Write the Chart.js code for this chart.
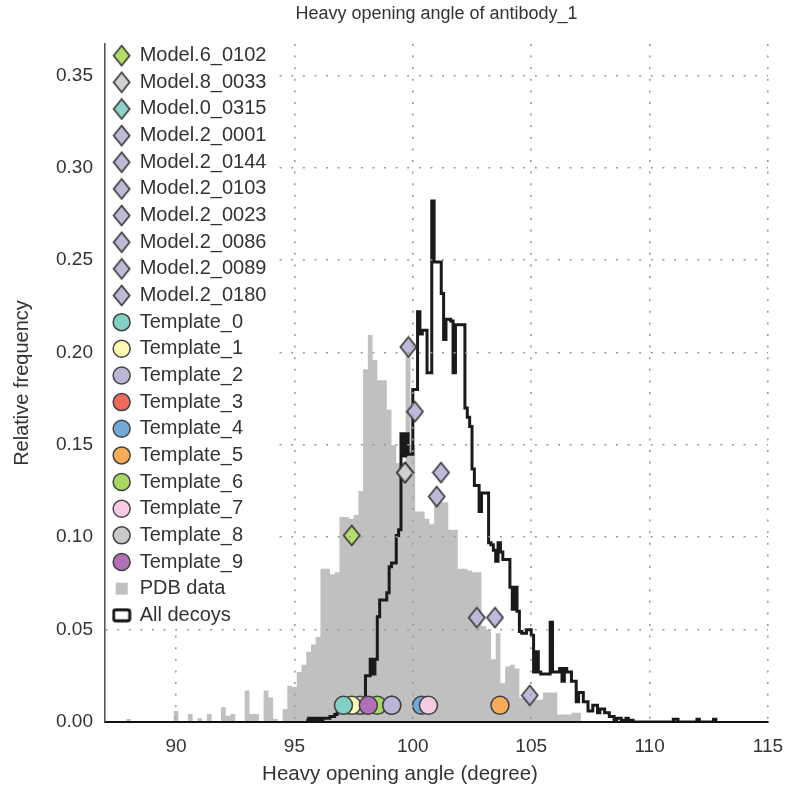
<!DOCTYPE html>
<html>
<head>
<meta charset="utf-8">
<script src="https://cdn.jsdelivr.net/npm/chart.js@4.4.1/dist/chart.umd.min.js"></script>
<style>
  html, body { margin: 0; padding: 0; background: #fff; }
  #wrap { width: 788px; height: 793px; }
</style>
</head>
<body>
<div id="wrap"><canvas id="chart" width="788" height="793"></canvas></div>
<script>
// ---- data ----
const modelNames = ['Model.6_0102', 'Model.8_0033', 'Model.0_0315', 'Model.2_0001', 'Model.2_0144',
  'Model.2_0103', 'Model.2_0023', 'Model.2_0086', 'Model.2_0089', 'Model.2_0180'];
const modelAngle = [97.42, 99.67, 99.67, 99.81, 100.09, 101.19, 101.01, 102.70, 103.47, 104.94];
const modelFreq = [0.101, 0.135, 0.135, 0.203, 0.168, 0.135, 0.122, 0.0565, 0.0565, 0.0144];

const templateNames = ['Template_0', 'Template_1', 'Template_2', 'Template_3', 'Template_4',
  'Template_5', 'Template_6', 'Template_7', 'Template_8', 'Template_9'];
const templateAngle = [97.07, 97.42, 99.11, 99.11, 100.37, 103.68, 98.50, 100.66, 97.77, 98.12];
const templateFreq = [0.009, 0.009, 0.009, 0.009, 0.009, 0.009, 0.009, 0.009, 0.009, 0.009];

// PDB data histogram, 0.2 degree bins starting at 87.1
const pdbStart = 87.1;
const pdbBin = 0.2;
const pdbFreq = [
  0, 0, 0, 0, 0.0016, 0, 0, 0, 0, 0,
  0, 0, 0, 0, 0.006, 0, 0, 0.0043, 0, 0.002,
  0, 0.0043, 0, 0, 0.008, 0.0034, 0.0043, 0, 0, 0.017,
  0.0043, 0.0043, 0, 0.017, 0.0133, 0.0016, 0, 0.007, 0.0196, 0.019,
  0.027, 0.031, 0.038, 0.042, 0.046, 0.083, 0.083, 0.080, 0.081, 0.111,
  0.111, 0.110, 0.112, 0.125, 0.191, 0.2095, 0.196, 0.185, 0.185, 0.169,
  0.150, 0.140, 0.140, 0.200, 0.150, 0.114, 0.114, 0.110, 0.107, 0.119,
  0.119, 0.119, 0.104, 0.104, 0.083, 0.083, 0.082, 0.081, 0.081, 0.052,
  0.050, 0.034, 0.048, 0.021, 0.030, 0.031, 0.029, 0.013, 0.014, 0.012,
  0.012, 0.012, 0.016, 0.016, 0.016, 0.004, 0.004, 0.004, 0.005, 0.005,
  0
];

// All decoys histogram, 0.1 degree bins starting at 95.5
const decoyStart = 95.5;
const decoyBin = 0.1;
const decoyFreq = [
  0.001, 0.002, 0.001, 0.002, 0.001, 0.002, 0.001, 0.002, 0.002, 0.002,
  0.003, 0.003, 0.004, 0.005, 0.005, 0.005, 0.005, 0.006, 0.005, 0.005,
  0.006, 0.005, 0.005, 0.006, 0.005, 0.025, 0.025, 0.034, 0.026, 0.034,
  0.057, 0.066, 0.066, 0.066, 0.070, 0.084, 0.086, 0.086, 0.101, 0.104,
  0.156, 0.144, 0.156, 0.145, 0.145, 0.180, 0.180, 0.222, 0.210, 0.212,
  0.212, 0.189, 0.189, 0.282, 0.249, 0.249, 0.249, 0.232, 0.207, 0.218,
  0.218, 0.217, 0.189, 0.215, 0.215, 0.215, 0.215, 0.170, 0.165, 0.160,
  0.137, 0.128, 0.128, 0.114, 0.124, 0.124, 0.124, 0.097, 0.096, 0.093,
  0.087, 0.097, 0.092, 0.088, 0.088, 0.088, 0.073, 0.061, 0.073, 0.060,
  0.049, 0.048, 0.048, 0.050, 0.050, 0.047, 0.027, 0.038, 0.027, 0.026,
  0.026, 0.026, 0.026, 0.054, 0.027, 0.027, 0.027, 0.029, 0.022, 0.029,
  0.027, 0.027, 0.022, 0.022, 0.011, 0.016, 0.016, 0.011, 0.011, 0.006,
  0.006, 0.009, 0.009, 0.005, 0.007, 0.007, 0.005, 0.005, 0.003, 0.003,
  0.001, 0.002, 0.002, 0.001, 0.001, 0.002, 0.001, 0.001, 0, 0,
  0, 0, 0, 0, 0, 0, 0, 0, 0, 0,
  0, 0, 0, 0, 0, 0.0015, 0.0015, 0, 0, 0,
  0, 0, 0, 0, 0, 0.0015, 0, 0, 0, 0,
  0, 0, 0.0015, 0
];

const xMin = 87, xMax = 115;
const yMax = 0.367;

// ---- styles ----
const FONT = "'Liberation Sans', Arial, Helvetica, sans-serif";
const TEXT = '#333';
const modelColors = ['#b3de69', '#d2cfd2', '#8dd3c7', '#bebada', '#bebada', '#bebada', '#bebada', '#bebada', '#bebada', '#bebada'];
const templateColors = ['#80d0c4', '#fbfab0', '#bab6d8', '#f0695c', '#74a9d6', '#f9ab55', '#a8d860', '#f9cbe2', '#c9c9c9', '#b06fb6'];
const LEG_FONT = 20;
const LEG_PAD = 6.65;
const PAD_LEFT = 32;

function diamond(fill) {
  const c = document.createElement('canvas');
  c.width = 19; c.height = 23;
  const g = c.getContext('2d');
  g.beginPath();
  g.moveTo(9.5, 1.5); g.lineTo(17.5, 11.5); g.lineTo(9.5, 21.5); g.lineTo(1.5, 11.5);
  g.closePath();
  g.fillStyle = fill; g.fill();
  g.lineWidth = 1.7; g.strokeStyle = '#3a3a3a'; g.stroke();
  return c;
}

function swatch(w, h, draw) {
  const c = document.createElement('canvas');
  c.width = w; c.height = h;
  draw(c.getContext('2d'));
  return c;
}

const pdbSwatch = swatch(14, 14, g => { g.fillStyle = '#c0c0c0'; g.fillRect(1, 1, 12, 12); });
const decoySwatch = swatch(20, 15, g => {
  g.fillStyle = '#fff'; g.strokeStyle = '#111'; g.lineWidth = 2.8;
  g.beginPath(); g.roundRect(2, 2, 16, 11, 2); g.fill(); g.stroke();
});

const datasets = [];
modelNames.forEach((name, i) => {
  datasets.push({
    label: name,
    data: [{ x: modelAngle[i], y: modelFreq[i] }],
    pointStyle: diamond(modelColors[i]),
    pointRadius: 9,
    backgroundColor: modelColors[i],
    borderColor: '#3a3a3a'
  });
});
templateNames.forEach((name, i) => {
  datasets.push({
    label: name,
    data: [{ x: templateAngle[i], y: templateFreq[i] }],
    pointStyle: 'circle',
    pointRadius: 9,
    borderWidth: 1.5,
    backgroundColor: templateColors[i],
    borderColor: '#404040',
    order: (i === 7 || i === 9) ? -1 : 0
  });
});
datasets.push({
  type: 'line',
  label: 'PDB data',
  data: pdbFreq.map((v, i) => ({ x: pdbStart + i * pdbBin, y: v })),
  stepped: 'before',
  fill: 'origin',
  backgroundColor: '#c0c0c0',
  borderWidth: 0,
  pointRadius: 0,
  pointStyle: pdbSwatch,
  order: 2
});
datasets.push({
  type: 'line',
  label: 'All decoys',
  data: decoyFreq.map((v, i) => ({ x: decoyStart + i * decoyBin, y: v })),
  stepped: 'before',
  fill: false,
  borderColor: '#1a1a1a',
  borderWidth: 3,
  backgroundColor: '#fff',
  pointRadius: 0,
  pointStyle: decoySwatch,
  order: 1
});

// legend sits inside the plot with a white backing, like the original
const legendBox = {
  id: 'legendBox',
  afterLayout(chart) {
    const lg = chart.legend, area = chart.chartArea;
    lg.left = area.left + 2;
    lg.right = area.right;
    lg.top = area.top - 5;
    lg.bottom = area.bottom;
  },
  afterDraw(chart) {
    const lg = chart.legend, area = chart.chartArea, ctx = chart.ctx;
    const rows = lg.legendItems.length;
    const h = LEG_PAD + rows * (LEG_FONT + LEG_PAD) - LEG_PAD / 2;
    ctx.save();
    ctx.fillStyle = '#fff';
    ctx.fillRect(area.left + 1, lg.top, lg.width, h);
    ctx.restore();
    lg.draw();
  }
};

new Chart(document.getElementById('chart'), {
  type: 'scatter',
  data: { datasets },
  plugins: [legendBox],
  options: {
    responsive: false,
    animation: false,
    devicePixelRatio: 1,
    events: [],
    layout: { padding: { left: PAD_LEFT, right: 20, top: 0, bottom: 0 } },
    plugins: {
      title: {
        display: true,
        text: 'Heavy opening angle of antibody_1',
        fullSize: false,
        color: TEXT,
        font: { family: FONT, size: 18, weight: 'normal' },
        padding: { top: 3, bottom: 19.4 }
      },
      subtitle: {
        display: true,
        position: 'bottom',
        fullSize: true,
        text: 'Heavy opening angle (degree)',
        color: TEXT,
        font: { family: FONT, size: 20.5 },
        padding: { top: 0, bottom: 6 }
      },
      legend: {
        position: 'chartArea',
        align: 'start',
        labels: {
          usePointStyle: true,
          boxWidth: 16,
          boxHeight: 12,
          padding: LEG_PAD,
          color: TEXT,
          font: { family: FONT, size: LEG_FONT },
          sort: (a, b) => a.datasetIndex - b.datasetIndex
        }
      },
      tooltip: { enabled: false }
    },
    scales: {
      x: {
        type: 'linear',
        min: xMin,
        max: xMax,
        afterFit: s => { s.height = 794 - 723 - 30.6; s.paddingLeft = 0; s.paddingRight = 0; },
        ticks: {
          stepSize: 5,
          includeBounds: false,
          padding: 13,
          color: TEXT,
          font: { family: FONT, size: 19 }
        },
        grid: { color: '#9a9a9a', lineWidth: 1.6, drawTicks: false, z: 1 },
        border: { color: '#111', width: 2, dash: [2, 9.6], z: 2 }
      },
      y: {
        min: 0,
        max: yMax,
        afterFit: s => { s.width = 105 - PAD_LEFT; },
        ticks: {
          stepSize: 0.05,
          includeBounds: false,
          padding: 12,
          color: TEXT,
          font: { family: FONT, size: 19 },
          callback: v => v.toFixed(2)
        },
        grid: { color: '#9a9a9a', lineWidth: 1.6, drawTicks: false, z: 1 },
        border: { color: '#555', width: 1.6, dash: [2, 9.6], z: 2 },
        title: {
          display: true,
          text: 'Relative frequency',
          color: TEXT,
          font: { family: FONT, size: 20 },
          padding: { top: 10 - PAD_LEFT, bottom: 0 }
        }
      }
    }
  }
});
</script>
</body>
</html>
